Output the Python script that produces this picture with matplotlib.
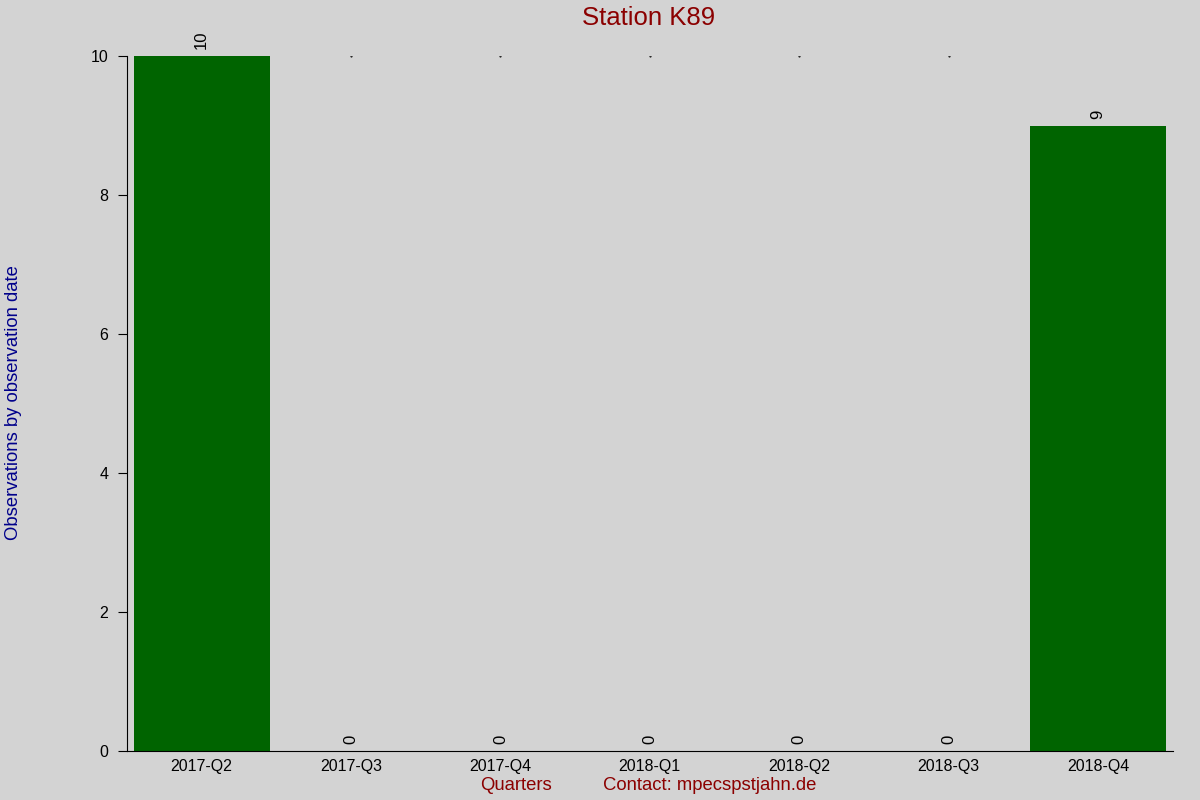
import matplotlib.pyplot as plt

quarters = ['2017-Q2', '2017-Q3', '2017-Q4', '2018-Q1', '2018-Q2', '2018-Q3', '2018-Q4']
counts = [10, 0, 0, 0, 0, 0, 9]
ymax = 10

plt.rcParams['font.family'] = ['Liberation Sans', 'DejaVu Sans']

bg = '#d3d3d3'
fig = plt.figure(figsize=(12, 8), dpi=100, facecolor=bg)
ax = fig.add_axes([0.1058, 0.06125, 0.8714, 0.86875], facecolor=bg)

x = list(range(len(quarters)))
ax.bar(x, counts, width=0.91, color='#006400')
for i, v in enumerate(counts):
  ax.text(i, v + 0.1, str(v), rotation=90, ha='center', va='bottom', fontsize=12)
  if v == 0:
    ax.plot(i, ymax, 'k.', markersize=1)

ax.set_xlim(-0.5, 6.5)
ax.set_ylim(0, ymax)
ax.set_xticks(x)
ax.set_xticklabels(quarters, fontsize=11.5)
ax.set_yticks(range(0, 11, 2))
ax.tick_params(axis='y', labelsize=11.5, length=6.5, pad=7)
ax.tick_params(axis='x', length=0, pad=6)
for s in ['top', 'right']:
  ax.spines[s].set_visible(False)

fig.text(0.5408, 0.977, 'Station K89', color='#8b0000', fontsize=18.5, ha='center', va='center')
fig.text(0.0115, 0.497, 'Observations by observation date', color='#00008b', fontsize=13.3,
         rotation=90, ha='center', va='center')
fig.text(0.43, 0.0175, 'Quarters', color='#8b0000', fontsize=13.3, ha='center', va='center')
fig.text(0.5917, 0.0175, 'Contact: mpecspstjahn.de', color='#8b0000', fontsize=13.3, ha='center', va='center')

fig.savefig('out.png', dpi=100, facecolor=bg)
